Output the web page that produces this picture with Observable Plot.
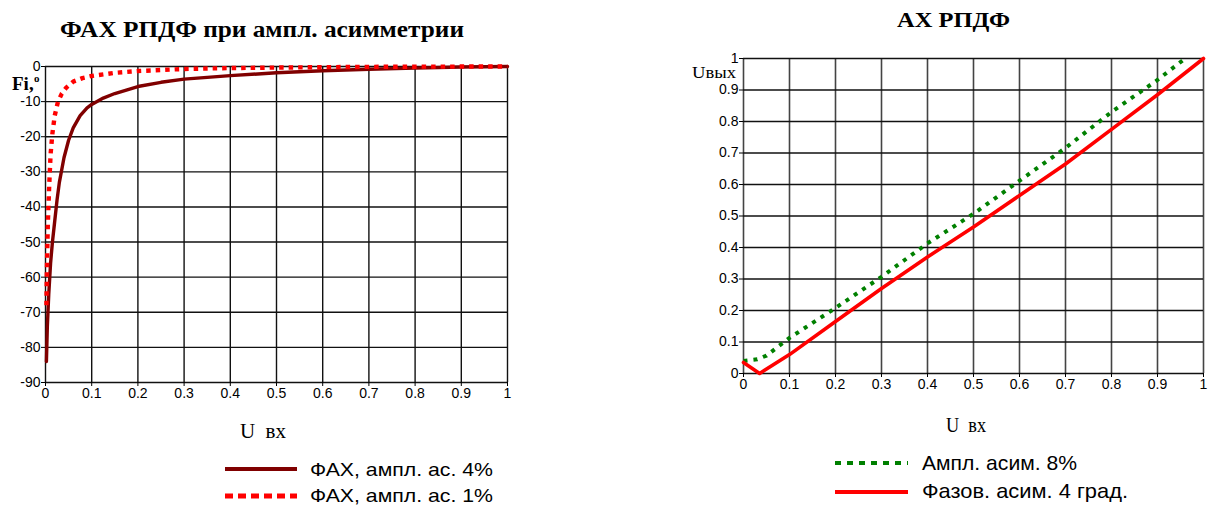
<!DOCTYPE html>
<html>
<head>
<meta charset="utf-8">
<script src="https://cdn.jsdelivr.net/npm/d3@7"></script>
<script src="https://cdn.jsdelivr.net/npm/@observablehq/plot@0.6"></script>
<style>
  html, body { margin: 0; padding: 0; background: #fff; }
  #root { position: relative; width: 1210px; height: 506px; overflow: hidden; background: #fff; }
</style>
</head>
<body>
<div id="root"></div>
<script>
// ---------- Data: left chart (ФАХ РПДФ при ампл. асимметрии) ----------
const xTicks = [0, 0.1, 0.2, 0.3, 0.4, 0.5, 0.6, 0.7, 0.8, 0.9, 1];
const leftYTicks = [0, -10, -20, -30, -40, -50, -60, -70, -80, -90];

const fax4X = [0.002, 0.004, 0.007, 0.011, 0.015, 0.02, 0.025, 0.03, 0.04, 0.05, 0.06, 0.075, 0.09, 0.1, 0.125, 0.15, 0.2, 0.25, 0.3, 0.4, 0.5, 0.6, 0.7, 0.8, 0.9, 1.0];
const fax4Y = [-84, -74, -65, -56, -50, -44, -38, -33, -26, -21, -17.5, -14, -11.8, -10.8, -9, -7.7, -5.7, -4.5, -3.6, -2.6, -1.8, -1.2, -0.8, -0.45, -0.15, 0];

const fax1X = [0.002, 0.003, 0.005, 0.008, 0.011, 0.015, 0.02, 0.027, 0.035, 0.045, 0.06, 0.08, 0.1, 0.15, 0.2, 0.3, 0.4, 0.5, 0.6, 0.7, 0.8, 0.9, 1.0];
const fax1Y = [-68, -58, -45, -34, -25, -19, -14, -10, -7.8, -6, -4.3, -3.3, -2.7, -1.8, -1.3, -0.7, -0.45, -0.3, -0.2, -0.1, -0.05, -0.02, 0];

// ---------- Data: right chart (АХ РПДФ) ----------
const rightYTicks = [0, 0.1, 0.2, 0.3, 0.4, 0.5, 0.6, 0.7, 0.8, 0.9, 1];

const amp8X = [0, 0.03, 0.05, 0.1, 0.2, 0.3, 0.4, 0.5, 0.6, 0.7, 0.8, 0.9, 0.96];
const amp8Y = [0.04, 0.045, 0.057, 0.113, 0.208, 0.307, 0.413, 0.507, 0.612, 0.716, 0.83, 0.932, 1.0];

const ph4X = [0, 0.035, 0.1, 0.2, 0.3, 0.4, 0.5, 0.6, 0.7, 0.8, 0.9, 1.0];
const ph4Y = [0.035, 0, 0.06, 0.165, 0.27, 0.37, 0.465, 0.565, 0.665, 0.775, 0.885, 1.0];

const leftTitle = "ФАХ РПДФ при ампл. асимметрии";
const rightTitle = "АХ РПДФ";
const xLabel = "U\u00a0\u00a0вх";
const leftYLabel = "Fi,";
const rightYLabel = "Uвых";
const leftLegend = ["ФАХ, ампл. ас. 4%", "ФАХ, ампл. ас. 1%"];
const rightLegend = ["Ампл. асим. 8%", "Фазов. асим. 4 град."];

// ---------- helpers ----------
const zip = (xs, ys) => xs.map((x, i) => ({x, y: ys[i]}));
const root = document.getElementById("root");
function place(el, left, top) {
  el.style.position = "absolute";
  el.style.left = left + "px";
  el.style.top = top + "px";
  root.appendChild(el);
  return el;
}
const fmt = d => String(d);
const axisStyle = {fontFamily: "'Liberation Sans', Arial, sans-serif", fontSize: "14px", color: "#000", background: "transparent", overflow: "visible"};

// ---------- Left plot ----------
const leftPlot = Plot.plot({
  width: 530, height: 400,
  marginLeft: 45, marginRight: 23, marginTop: 66, marginBottom: 18,
  style: axisStyle,
  x: {domain: [0, 1]},
  y: {domain: [-90, 0]},
  marks: [
    Plot.gridX(xTicks, {stroke: "#111", strokeOpacity: 1, strokeWidth: 1.4}),
    Plot.gridY(leftYTicks, {stroke: "#111", strokeOpacity: 1, strokeWidth: 1.4}),
    Plot.axisX(xTicks, {tickSize: 4, tickPadding: 2, tickFormat: fmt, label: null, stroke: "#000"}),
    Plot.axisY(leftYTicks, {tickSize: 4, tickPadding: 1, tickFormat: fmt, label: null, stroke: "#000"}),
    Plot.line(zip(fax4X, fax4Y), {x: "x", y: "y", stroke: "#800000", strokeWidth: 3.4}),
    Plot.line(zip(fax1X, fax1Y), {x: "x", y: "y", stroke: "#ff0000", strokeWidth: 4.4, strokeDasharray: "4.5,5", strokeLinecap: "butt"})
  ]
});
place(leftPlot, 0, 0);

// ---------- Right plot ----------
const rightPlot = Plot.plot({
  width: 530, height: 400,
  marginLeft: 63, marginRight: 7, marginTop: 58, marginBottom: 27,
  style: axisStyle,
  x: {domain: [0, 1]},
  y: {domain: [0, 1]},
  marks: [
    Plot.gridX(xTicks, {stroke: "#444", strokeOpacity: 1, strokeWidth: 1.6}),
    Plot.gridY(rightYTicks, {stroke: "#111", strokeOpacity: 1, strokeWidth: 1.4}),
    Plot.axisX(xTicks, {tickSize: 4, tickPadding: 2, tickFormat: fmt, label: null, stroke: "#000"}),
    Plot.axisY(rightYTicks, {tickSize: 4, tickPadding: 1, tickFormat: fmt, label: null, stroke: "#000"}),
    Plot.line(zip(amp8X, amp8Y), {x: "x", y: "y", stroke: "#008000", strokeWidth: 4, strokeDasharray: "4,6", strokeLinecap: "butt"}),
    Plot.line(zip(ph4X, ph4Y), {x: "x", y: "y", stroke: "#ff0000", strokeWidth: 3.6})
  ]
});
place(rightPlot, 680, 0);

// ---------- Overlay: titles, axis labels, legends ----------
const ov = d3.create("svg").attr("width", 1210).attr("height", 506)
  .style("pointer-events", "none").style("overflow", "visible");
const serif = "'Liberation Serif', 'Times New Roman', serif";
const sans = "'Liberation Sans', Arial, sans-serif";
function txt(s, x, y, len, size, family, weight) {
  const t = ov.append("text").attr("x", x).attr("y", y)
    .attr("font-family", family).attr("font-size", size)
    .attr("font-weight", weight || "normal").attr("fill", "#000").text(s);
  if (len) t.attr("textLength", len).attr("lengthAdjust", "spacingAndGlyphs");
  return t;
}
txt(leftTitle, 60, 37, 404, 23, serif, "bold");
txt(rightTitle, 897, 27, 113, 20, serif, "bold");
txt(leftYLabel, 12, 90, null, 19, serif, "bold");
ov.append("text").attr("x", 34).attr("y", 82).attr("font-family", serif).attr("font-size", 11)
  .attr("font-weight", "bold").text("o");
txt(rightYLabel, 692, 78, 44, 17, serif);
txt(xLabel, 240, 438, 46, 22, serif);
txt(xLabel, 946, 432, 40, 21, serif);

function legendRow(x1, x2, y, textX, textY, len, size, text, stroke, width, dash) {
  ov.append("line").attr("x1", x1).attr("x2", x2).attr("y1", y).attr("y2", y)
    .attr("stroke", stroke).attr("stroke-width", width)
    .attr("stroke-dasharray", dash || null).attr("stroke-linecap", "butt");
  txt(text, textX, textY, len, size, sans);
}
legendRow(225, 297, 469, 310, 476, 183, 19, leftLegend[0], "#800000", 4, null);
legendRow(225, 297, 496, 310, 502, 183, 19, leftLegend[1], "#ff0000", 5, "8,5");
legendRow(835, 908, 463, 922, 470, 155, 21, rightLegend[0], "#008000", 4, "6,6");
legendRow(835, 908, 492, 922, 498, 206, 21, rightLegend[1], "#ff0000", 4, null);
place(ov.node(), 0, 0);
</script>
</body>
</html>
